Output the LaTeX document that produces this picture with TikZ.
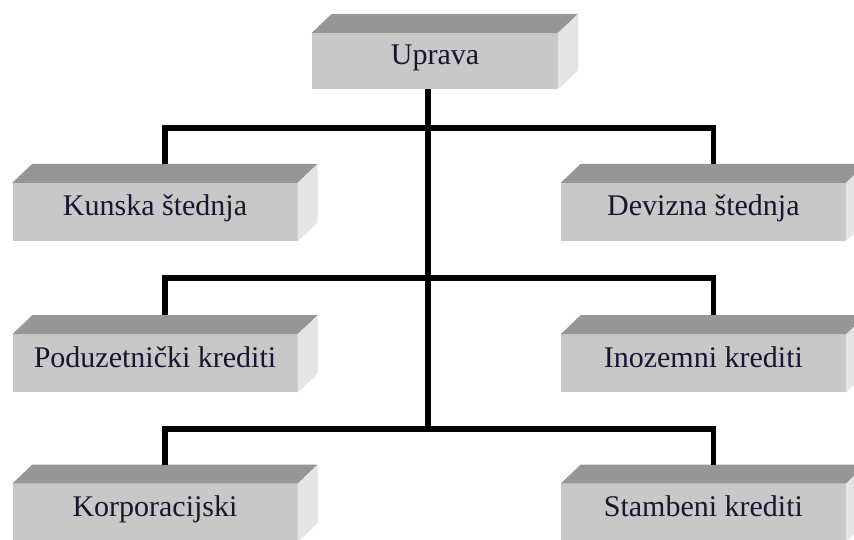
\documentclass[tikz,border=0pt]{standalone}
\usepackage{fontspec}
\setmainfont{Liberation Serif}
\usetikzlibrary{positioning,calc}
\definecolor{prednja}{RGB}{200,200,200}
\definecolor{gornja}{RGB}{150,150,150}
\definecolor{bocna}{RGB}{228,228,228}
\definecolor{tekst}{RGB}{22,22,48}

\begin{document}
\begin{tikzpicture}[x=1pt,y=1pt]
\tikzset{myFont/.style={font=\fontsize{30}{32}\selectfont,text=tekst}}
\tikzset{myBox/.style={fill=prednja,inner sep=0pt,minimum width=285pt,minimum height=58pt,text height=0.78em,text depth=0pt,myFont}}
\tikzset{myLine/.style={draw=black,line width=5.5pt,line join=miter}}

\clip (0,0) rectangle (854,540);

\node[myBox,minimum width=246pt,minimum height=56pt] (uprava) at (435,479) {Uprava};
\node[myBox] (kunska) at (155,328) {Kunska štednja};
\node[myBox,right=263pt of kunska] (devizna) {Devizna štednja};
\node[myBox,below=93pt of kunska] (poduzetnicki) {Poduzetnički krediti};
\node[myBox,right=263pt of poduzetnicki] (inozemni) {Inozemni krediti};
\node[myBox,below=91pt of poduzetnicki] (korporacijski) {Korporacijski};
\node[myBox,right=263pt of korporacijski] (stambeni) {Stambeni krediti};

% gornja i bocna ploha kutija
\foreach \n in {uprava,kunska,devizna,poduzetnicki,inozemni,korporacijski,stambeni} {
  \fill[gornja] (\n.north west) -- ([shift={(20,19)}]\n.north west) -- ([shift={(20,19)}]\n.north east) -- (\n.north east) -- cycle;
  \fill[bocna] (\n.north east) -- ([shift={(20,19)}]\n.north east) -- ([shift={(20,19)}]\n.south east) -- (\n.south east) -- cycle;
  \coordinate (\n-vrh) at ([shift={(10,19)}]\n.north);
}

\coordinate (deblo) at ([xshift=-7pt]uprava.south);
\coordinate (grana1) at (428,412);
\coordinate (grana2) at (428,262);
\coordinate (grana3) at (428,111);

\path[myLine] (deblo) -- (deblo |- grana3);
\path[myLine] (kunska-vrh) -- (kunska-vrh |- grana1) -- (devizna-vrh |- grana1) -- (devizna-vrh);
\path[myLine] (poduzetnicki-vrh) -- (poduzetnicki-vrh |- grana2) -- (inozemni-vrh |- grana2) -- (inozemni-vrh);
\path[myLine] (korporacijski-vrh) -- (korporacijski-vrh |- grana3) -- (stambeni-vrh |- grana3) -- (stambeni-vrh);

\end{tikzpicture}
\end{document}
